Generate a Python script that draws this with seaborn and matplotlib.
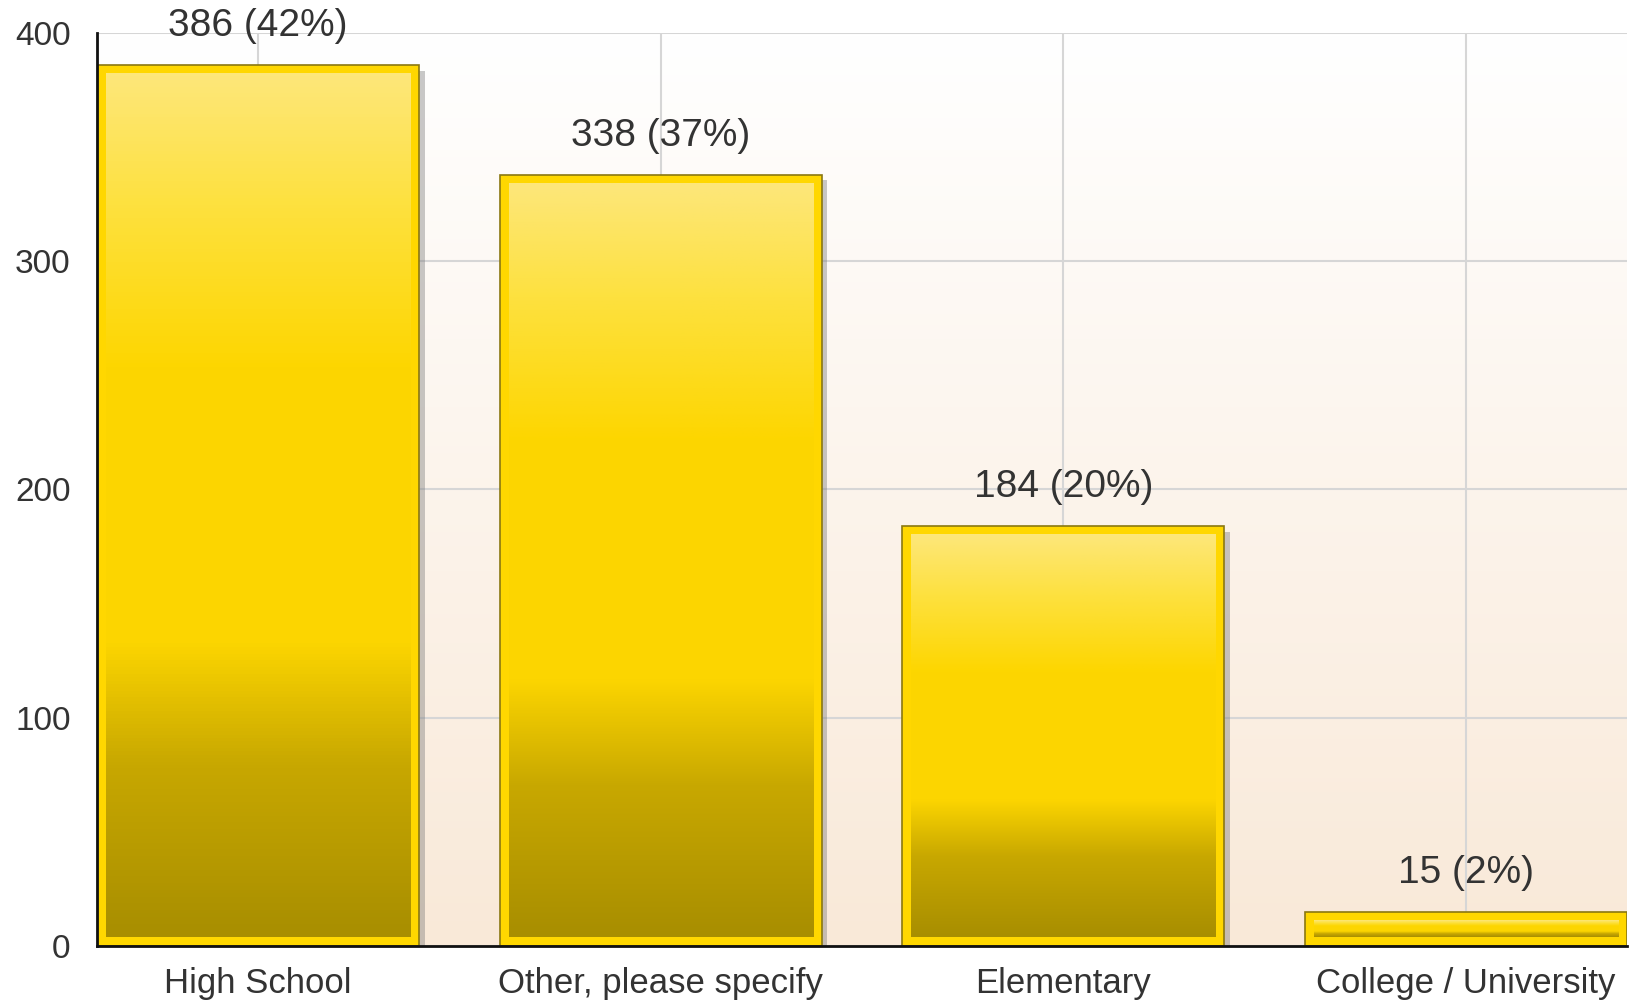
import numpy as np
import matplotlib
matplotlib.use("Agg")
import matplotlib.pyplot as plt
import matplotlib.patheffects as pe
from matplotlib.colors import LinearSegmentedColormap
import seaborn as sns

# Data
categories = ["High School", "Other, please specify", "Elementary", "College / University"]
counts = [386, 338, 184, 15]
percents = [42, 37, 20, 2]
y_ticks = [0, 100, 200, 300, 400]

sns.set_style("white")
plt.rcParams["font.family"] = ["Liberation Sans", "DejaVu Sans"]

fig = plt.figure(figsize=(16.37, 10), dpi=100)
ax = fig.add_axes([0.0593, 0.054, 0.9346, 0.913])

sns.barplot(x=categories, y=counts, color="#ffd700", width=0.8, saturation=1,
            edgecolor="#8a7812", linewidth=1.2, ax=ax, zorder=2)

ax.set_xlim(-0.4, 3.4)
ax.set_ylim(0, 400)

# background gradient (white top -> peach bottom)
bg = LinearSegmentedColormap.from_list("bg", ["#f9e9d8", "#ffffff"])
ax.imshow(np.linspace(0, 1, 256).reshape(-1, 1), cmap=bg, origin="lower",
          extent=[-0.4, 3.4, 0, 400], aspect="auto", zorder=0.1)

# bar fill gradient: dark olive bottom, gold middle, light yellow top
bar_cmap = LinearSegmentedColormap.from_list(
    "bar", [(0.0, "#a88e00"), (0.2, "#c8a800"), (0.34, "#fcd500"),
            (0.66, "#fdd600"), (0.85, "#fde13f"), (1.0, "#fde77a")])
grad = np.linspace(0, 1, 256).reshape(-1, 1)

padx = 0.022
pady = 3.9
for patch, v, p in zip(ax.patches, counts, percents):
    x0 = patch.get_x()
    w = patch.get_width()
    h = patch.get_height()
    patch.set_path_effects([pe.SimplePatchShadow(offset=(4, -4), shadow_rgbFace="#777777", alpha=0.4),
                            pe.Normal()])
    ax.imshow(grad, cmap=bar_cmap, origin="lower", aspect="auto",
              extent=[x0 + padx, x0 + w - padx, pady, h - pady], zorder=2.5)
    ax.annotate(f"{v} ({p}%)", (x0 + w / 2, h), xytext=(0, 28), textcoords="offset points",
                ha="center", va="center", fontsize=28, color="#333333", zorder=5,
                annotation_clip=False)

ax.set_yticks(y_ticks)
ax.set_axisbelow(True)
ax.grid(True, color="#d6d6d6", linewidth=1.5)

for s in ["top", "right"]:
    ax.spines[s].set_visible(False)
for s in ["left", "bottom"]:
    ax.spines[s].set_color("#111111")
    ax.spines[s].set_linewidth(2)
    ax.spines[s].set_zorder(3)

ax.tick_params(axis="x", length=9, width=2, color="#111111", pad=6, labelsize=25, labelcolor="#333333")
ax.tick_params(axis="y", length=11, width=1.5, color="#cccccc", pad=8, labelsize=24, labelcolor="#333333")
ax.set_xlabel("")
ax.set_ylabel("")

fig.savefig("out.png", dpi=100)
